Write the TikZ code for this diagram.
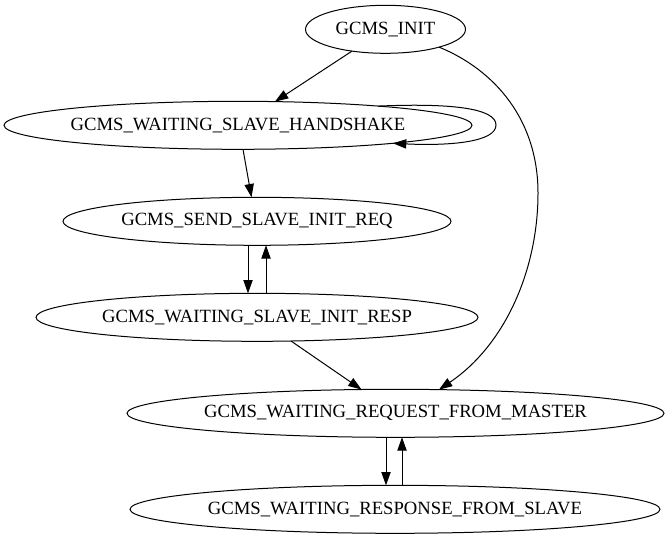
\documentclass[tikz,border=0pt]{standalone}
\usepackage{fontspec}
\setmainfont{Liberation Serif}
\usetikzlibrary{arrows.meta,calc,shapes.geometric}
\begin{document}
\begin{tikzpicture}[x=1pt,y=-1pt,
  state/.style={draw, ellipse, inner sep=0pt, outer sep=0pt, minimum height=48pt, line width=1pt,
    font=\fontsize{18.67}{22}\selectfont},
  edge/.style={line width=1pt, -{Triangle[length=13.3pt,width=9.3pt]}}]
\useasboundingbox (0,0) rectangle (668,539);
\node[state, minimum width=160pt] (init)   at (385.5,29.3)  {\makebox[0pt]{GCMS\_INIT}};
\node[state, minimum width=468pt] (hs)     at (238,125.3)   {\makebox[0pt]{GCMS\_WAITING\_SLAVE\_HANDSHAKE}};
\node[state, minimum width=388pt] (req)    at (257,221.3)   {\makebox[0pt]{GCMS\_SEND\_SLAVE\_INIT\_REQ}};
\node[state, minimum width=442pt] (resp)   at (257,317.3)   {\makebox[0pt]{GCMS\_WAITING\_SLAVE\_INIT\_RESP}};
\node[state, minimum width=537pt] (master) at (395.5,413.3) {\makebox[0pt]{GCMS\_WAITING\_REQUEST\_FROM\_MASTER}};
\node[state, minimum width=530pt] (slave)  at (395,509.3)   {\makebox[0pt]{GCMS\_WAITING\_RESPONSE\_FROM\_SLAVE}};

\draw[edge] ($(init)+(-33.5,21.8)$) -- ($(hs)+(37,-23.7)$);
\draw[edge] ($(init)+(53.5,17.8)$) .. controls (495,70) and (538,120) .. (538,193)
            .. controls (538,270) and (505,345) .. ($(master)+(43.5,-23.7)$);
\draw[edge] ($(hs)+(140,-19.2)$) .. controls (450,103) and (496,108) .. (496,125)
            .. controls (496,142) and (450,146) .. ($(hs)+(155,18)$);
\draw[edge] ($(hs)+(5,24)$) -- ($(req)+(-5.5,-24)$);
\draw[edge] ($(req)+(-9,24)$) -- ($(resp)+(-9,-24)$);
\draw[edge] ($(resp)+(9,-24)$) -- ($(req)+(9,24)$);
\draw[edge] ($(resp)+(34,23.7)$) -- ($(master)+(-34,-23.8)$);
\draw[edge] ($(master)+(-9.5,24)$) -- ($(slave)+(-9,-24)$);
\draw[edge] ($(slave)+(7,-24)$) -- ($(master)+(6.5,24)$);
\end{tikzpicture}
\end{document}
